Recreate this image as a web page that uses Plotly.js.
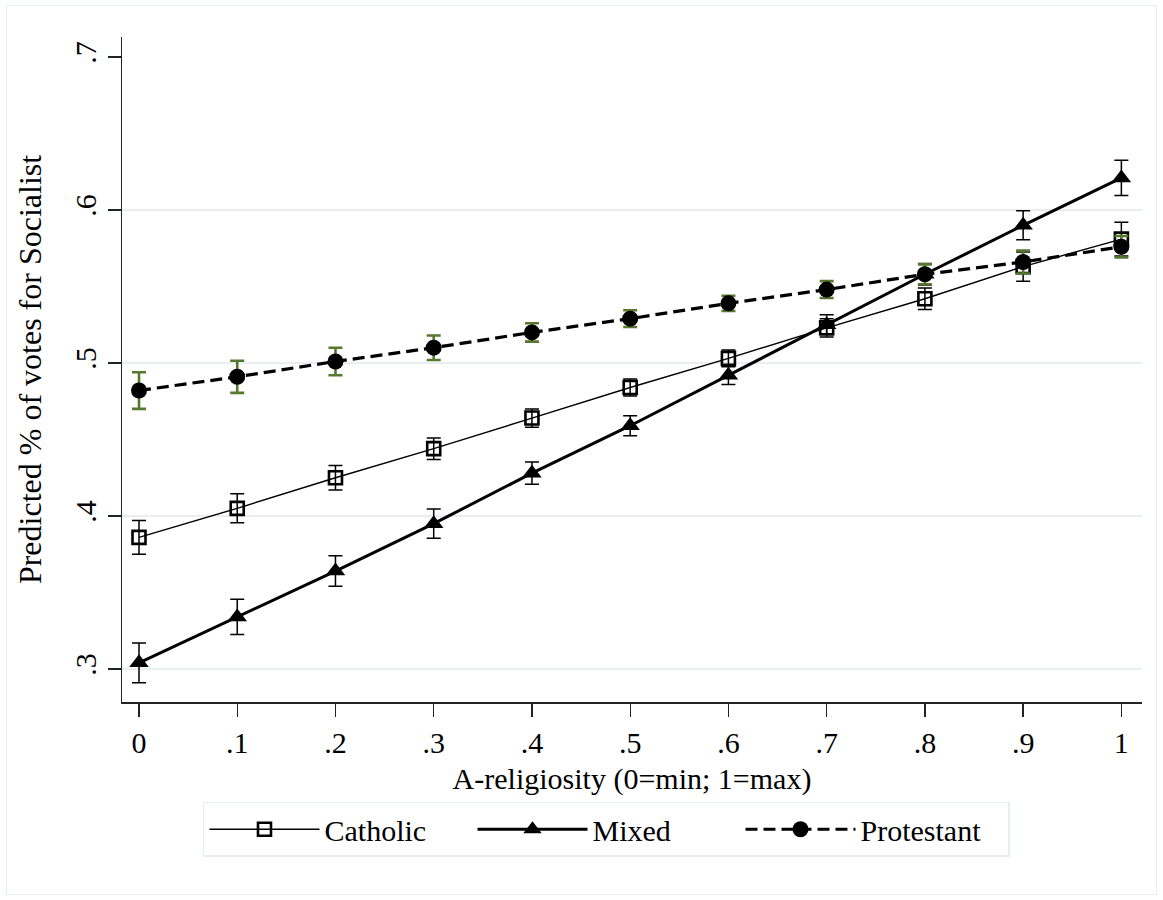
<!DOCTYPE html>
<html>
<head>
<meta charset="utf-8">
<script src="https://cdn.plot.ly/plotly-3.0.1.min.js"></script>
<style>
  html, body { margin: 0; padding: 0; background: #fff; }
  #wrap { position: relative; width: 1163px; height: 900px; }
  #chart { width: 1163px; height: 900px; }
  #frame { position: absolute; left: 6px; top: 5px; width: 1149px; height: 888px;
           border: 1.5px solid #e6eef0; pointer-events: none; }
</style>
</head>
<body>
<div id="wrap">
  <div id="chart"></div>
  <div id="frame"></div>
</div>
<script>
// ---- data ----
var religiosity = [0, 0.1, 0.2, 0.3, 0.4, 0.5, 0.6, 0.7, 0.8, 0.9, 1.0];
var catholic     = [0.386, 0.405, 0.425, 0.444, 0.464, 0.484, 0.503, 0.523, 0.542, 0.563, 0.581];
var catholicErr  = [0.011, 0.0095, 0.008, 0.007, 0.006, 0.0055, 0.0055, 0.006, 0.007, 0.0095, 0.011];
var mixed        = [0.304, 0.334, 0.364, 0.395, 0.428, 0.459, 0.492, 0.525, 0.558, 0.590, 0.621];
var mixedErr     = [0.013, 0.0115, 0.010, 0.0095, 0.0073, 0.0065, 0.006, 0.0065, 0.007, 0.0095, 0.0115];
var protestant   = [0.482, 0.491, 0.501, 0.510, 0.520, 0.529, 0.539, 0.548, 0.558, 0.566, 0.576];
var protestantErr= [0.012, 0.0105, 0.009, 0.008, 0.006, 0.0055, 0.005, 0.0055, 0.0065, 0.0075, 0.007];

var xTickVals = [0, 0.1, 0.2, 0.3, 0.4, 0.5, 0.6, 0.7, 0.8, 0.9, 1];
var xTickText = ['0', '.1', '.2', '.3', '.4', '.5', '.6', '.7', '.8', '.9', '1'];
var yTickVals = [0.3, 0.4, 0.5, 0.6, 0.7];
var yTickText = ['.3', '.4', '.5', '.6', '.7'];
var yGridVals = [0.3, 0.4, 0.5, 0.6];

var seriesNames = ['Catholic', 'Mixed', 'Protestant'];

// ---- styling ----
var FONT = '"Liberation Serif", "Times New Roman", serif';
var GREEN = '#56782f';

var traces = [
  {
    x: religiosity, y: catholic, name: seriesNames[0], type: 'scatter', mode: 'lines+markers',
    line: { color: '#000', width: 1.4 },
    marker: { symbol: 'square-open', size: 13, color: '#000', line: { width: 2.6, color: '#000' } },
    error_y: { type: 'data', array: catholicErr, visible: true, color: '#000', thickness: 1.5, width: 7 }
  },
  {
    x: religiosity, y: mixed, name: seriesNames[1], type: 'scatter', mode: 'lines+markers',
    line: { color: '#000', width: 3 },
    marker: { symbol: 'triangle-up', size: 17, color: '#000' },
    error_y: { type: 'data', array: mixedErr, visible: true, color: '#000', thickness: 1.5, width: 7 }
  },
  {
    x: religiosity, y: protestant, name: seriesNames[2], type: 'scatter', mode: 'lines+markers',
    line: { color: '#000', width: 3.2, dash: '12px,6px' },
    marker: { symbol: 'circle', size: 16, color: '#000' },
    error_y: { type: 'data', array: protestantErr, visible: true, color: GREEN, thickness: 2.6, width: 7 }
  }
];

var shapes = yGridVals.map(function (v) {
  return { type: 'line', xref: 'paper', yref: 'y', x0: 0, x1: 1, y0: v, y1: v,
           layer: 'below', line: { color: '#e7eff1', width: 2.2 } };
});

var layout = {
  width: 1163, height: 900,
  margin: { l: 122, r: 21, t: 37, b: 198 },
  paper_bgcolor: '#fff', plot_bgcolor: '#fff',
  font: { family: FONT, size: 30, color: '#000' },
  showlegend: true,
  xaxis: {
    range: [-0.0173, 1.021],
    tickvals: xTickVals, ticktext: xTickText,
    ticks: 'outside', ticklen: 13, tickwidth: 1.3, tickcolor: '#222',
    showline: true, linecolor: '#222', linewidth: 1.5,
    showgrid: false, zeroline: false,
    tickfont: { family: FONT, size: 30, color: '#000' },
    title: { text: 'A-religiosity (0=min; 1=max)', font: { family: FONT, size: 30, color: '#000' }, standoff: 10 }
  },
  yaxis: {
    range: [0.2784, 0.7131],
    tickvals: yTickVals, ticktext: yTickText, tickangle: -90,
    ticks: 'outside', ticklen: 13, tickwidth: 1.3, tickcolor: '#222',
    showline: true, linecolor: '#222', linewidth: 1.5,
    showgrid: false, zeroline: false,
    tickfont: { family: FONT, size: 30, color: '#000' },
    title: { text: 'Predicted % of votes for Socialist', font: { family: FONT, size: 32, color: '#000' }, standoff: 17 }
  },
  shapes: shapes,
  legend: {
    orientation: 'h',
    x: 0.0794, xanchor: 'left',
    y: -0.150, yanchor: 'top',
    bordercolor: '#e6eef0', borderwidth: 1.5,
    bgcolor: '#fff',
    font: { family: FONT, size: 30, color: '#000' },
    itemwidth: 110,
    entrywidth: 143, entrywidthmode: 'pixels',
    itemclick: false, itemdoubleclick: false
  }
};

Plotly.newPlot('chart', traces, layout, { displayModeBar: false, staticPlot: true });
</script>
</body>
</html>
